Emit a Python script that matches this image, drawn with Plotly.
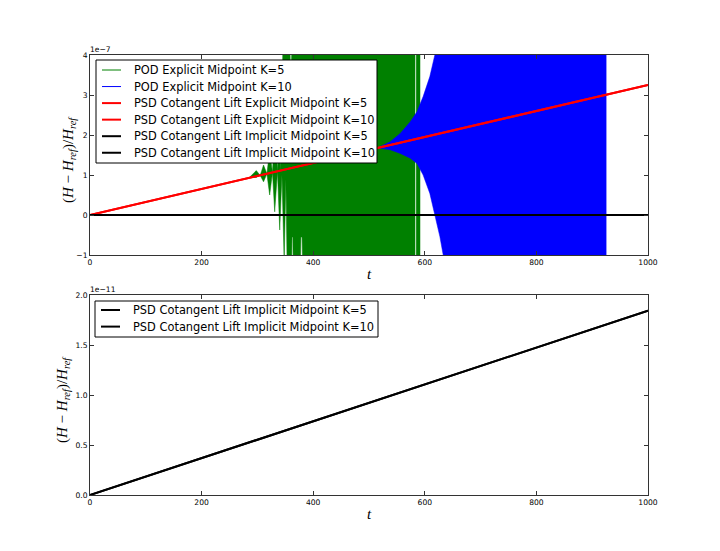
import plotly.graph_objects as go

# ---------------- data ----------------
# top panel values are in units of 1e-7, bottom panel in units of 1e-11
TOP_SCALE = 1e-7
BOT_SCALE = 1e-11

# POD Explicit Midpoint K=5 : envelope of the (dense) oscillation
green_upper_t = [285, 298, 305, 311, 317, 322, 327, 331, 336, 339, 342, 346, 350, 357, 359, 361, 363, 582.5]
green_upper_v = [0.93, 1.11, 0.99, 1.25, 1.03, 1.6, 1.06, 2.2, 1.09, 3.0, 1.11, 4.5, 5.0, 5.0, 3.8, 3.8, 5.0, 5.0]
green_lower_t = [285, 298, 305, 311, 317, 322, 327, 331, 336, 340, 344, 348, 351, 354, 361, 362, 363.5, 365, 376, 378, 380, 382, 582.5]
green_lower_v = [0.93, 0.94, 0.99, 0.83, 1.03, 0.5, 1.06, 0.08, 1.09, -0.375, 1.0, -1.2, 0.9, -2.0, -2.0, -0.55, -0.55, -2.0, -2.0, -0.55, -0.55, -2.0, -2.0]
green_tail_t = [584.5, 591.4]
green_tail_upper = [5.0, 5.0]
green_tail_lower = [-2.0, -2.0]

# POD Explicit Midpoint K=10 : envelope of the oscillation
blue_upper_t = [505, 520, 538, 556, 574, 586, 597, 609, 618, 625, 925]
blue_upper_v = [1.64, 1.71, 1.83, 2.04, 2.33, 2.58, 2.96, 3.46, 4.0, 5.0, 5.0]
blue_lower_t = [505, 520, 538, 556, 574, 586, 597, 609, 618, 627, 633, 640, 925]
blue_lower_v = [1.64, 1.67, 1.63, 1.54, 1.42, 1.29, 1.0, 0.54, 0.04, -0.54, -1.0, -2.0, -2.0]

# PSD Cotangent Lift Explicit Midpoint (K=5 and K=10 coincide), units 1e-7
red_t = [0, 1000]
red_k5 = [0.0, 3.25]
red_k10 = [0.0, 3.25]

# PSD Cotangent Lift Implicit Midpoint (K=5 and K=10 coincide), units 1e-11
black_t = [0, 1000]
black_k5 = [0.0, 1.843]
black_k10 = [0.0, 1.843]

x_ticks = [0, 200, 400, 600, 800, 1000]
top_y_ticks = [-1, 0, 1, 2, 3, 4]
bot_y_ticks = [0.0, 0.5, 1.0, 1.5, 2.0]

names = [
    "POD Explicit Midpoint K=5",
    "POD Explicit Midpoint K=10",
    "PSD Cotangent Lift Explicit Midpoint K=5",
    "PSD Cotangent Lift Explicit Midpoint K=10",
    "PSD Cotangent Lift Implicit Midpoint K=5",
    "PSD Cotangent Lift Implicit Midpoint K=10",
]

GREEN = "#008000"
BLUE = "#0000ff"
RED = "#ff0000"
BLACK = "#000000"
top_legend_styles = [(GREEN, 1), (BLUE, 1), (RED, 2), (RED, 2), (BLACK, 2), (BLACK, 2)]
bot_legend_styles = [(BLACK, 2), (BLACK, 2)]


def polygon(ut, uv, lt, lv):
    xs = list(ut) + list(reversed(lt))
    ys = list(uv) + list(reversed(lv))
    return xs, ys


gx1, gy1 = polygon(green_upper_t, green_upper_v, green_lower_t, green_lower_v)
gx2, gy2 = polygon(green_tail_t, green_tail_upper, green_tail_t, green_tail_lower)
gx = gx1 + [None] + gx2
gy = gy1 + [None] + gy2
bx, by = polygon(blue_upper_t, blue_upper_v, blue_lower_t, blue_lower_v)

fig = go.Figure()

# ---------------- top panel ----------------
fig.add_trace(go.Scatter(x=gx, y=gy, mode="lines", fill="toself", fillcolor=GREEN,
                         line=dict(color=GREEN, width=0.5), name=names[0],
                         hoverinfo="skip", xaxis="x", yaxis="y"))
fig.add_trace(go.Scatter(x=bx, y=by, mode="lines", fill="toself", fillcolor=BLUE,
                         line=dict(color=BLUE, width=0.5), name=names[1],
                         hoverinfo="skip", xaxis="x", yaxis="y"))
fig.add_trace(go.Scatter(x=red_t, y=red_k5, mode="lines", name=names[2],
                         line=dict(color=RED, width=2), xaxis="x", yaxis="y"))
fig.add_trace(go.Scatter(x=red_t, y=red_k10, mode="lines", name=names[3],
                         line=dict(color=RED, width=2), xaxis="x", yaxis="y"))
fig.add_trace(go.Scatter(x=black_t, y=[v * BOT_SCALE / TOP_SCALE for v in black_k5],
                         mode="lines", name=names[4],
                         line=dict(color=BLACK, width=2), xaxis="x", yaxis="y"))
fig.add_trace(go.Scatter(x=black_t, y=[v * BOT_SCALE / TOP_SCALE for v in black_k10],
                         mode="lines", name=names[5],
                         line=dict(color=BLACK, width=2), xaxis="x", yaxis="y"))

# ---------------- bottom panel ----------------
fig.add_trace(go.Scatter(x=black_t, y=black_k5, mode="lines", name=names[4],
                         line=dict(color=BLACK, width=2), xaxis="x2", yaxis="y2"))
fig.add_trace(go.Scatter(x=black_t, y=black_k10, mode="lines", name=names[5],
                         line=dict(color=BLACK, width=2), xaxis="x2", yaxis="y2"))

TICKFONT = dict(family="DejaVu Sans", size=7.6, color="black")
axis_common = dict(showline=True, linecolor="#333333", linewidth=1, mirror="ticks",
                   ticks="inside", ticklen=4, tickcolor="#333333", tickwidth=1,
                   showgrid=False, zeroline=False, tickfont=TICKFONT)

# page pixel -> paper coordinates (plot area spans x 90..648, y 55..495 on the page)
def px(x):
    return (x - 90) / 558.0


def py(y):
    return (495 - y) / 440.0


top_dom = [py(255), 1.0]
bot_dom = [0.0, py(295)]

# the page body has an 8px margin; size the figure so the plot lands where the reference has it
fig.update_layout(
    width=704, height=535,
    margin=dict(l=82, r=64, t=47, b=48),
    paper_bgcolor="white", plot_bgcolor="white",
    showlegend=False,
    xaxis=dict(domain=[0, 1], range=[0, 1000], tickvals=x_ticks, anchor="y", **axis_common),
    yaxis=dict(domain=top_dom, range=[-1, 4], tickvals=top_y_ticks, anchor="x", **axis_common),
    xaxis2=dict(domain=[0, 1], range=[0, 1000], tickvals=x_ticks, anchor="y2", **axis_common),
    yaxis2=dict(domain=bot_dom, range=[0, 2.0], tickvals=bot_y_ticks, tickformat=".1f",
                anchor="x2", **axis_common),
)

ylabel = "(<i>H</i> − <i>H</i><sub><i>ref</i></sub>)/<i>H</i><sub><i>ref</i></sub>"
serif = dict(family="Liberation Serif", size=15, color="black")
legfont = dict(family="DejaVu Sans", size=11.4, color="black")
ann = []
shapes = []
for xr, yr, off, lab_shift in [("x domain", "y domain", "1e−7", -21),
                               ("x2 domain", "y2 domain", "1e−11", -27)]:
    ann.append(dict(xref=xr, yref=yr, x=0, y=1, xanchor="left", yanchor="bottom",
                    text=off, showarrow=False, font=TICKFONT, xshift=-2, yshift=-1))
    ann.append(dict(xref=xr, yref=yr, x=0, y=0.5, xanchor="center", yanchor="middle",
                    text=ylabel, textangle=-90, showarrow=False, font=serif,
                    xshift=lab_shift, yshift=-5))
    ann.append(dict(xref=xr, yref=yr, x=0.5, y=0, xanchor="center", yanchor="middle",
                    text="<i>t</i>", showarrow=False, font=serif, yshift=-19))


def add_legend(box, labels, styles, row0, dy, line_x0, line_x1, text_x):
    x0, y0, x1, y1 = box
    shapes.append(dict(type="rect", xref="paper", yref="paper",
                       x0=px(x0), x1=px(x1), y0=py(y1), y1=py(y0),
                       line=dict(color="black", width=1), fillcolor="white", layer="above"))
    for i, (lab, (col, w)) in enumerate(zip(labels, styles)):
        yy = row0 + i * dy
        shapes.append(dict(type="line", xref="paper", yref="paper",
                           x0=px(line_x0), x1=px(line_x1), y0=py(yy), y1=py(yy),
                           line=dict(color=col, width=w), layer="above"))
        ann.append(dict(xref="paper", yref="paper", x=px(text_x), y=py(yy),
                        xanchor="left", yanchor="middle", text=lab, showarrow=False,
                        font=legfont))


add_legend((96, 60, 377, 163), names, top_legend_styles, 70.0, 16.55, 102, 121, 132)
add_legend((95, 301, 378, 337), names[4:], bot_legend_styles, 310.0, 16.6, 101, 120, 131)

fig.update_layout(annotations=ann, shapes=shapes)

fig.write_html("out.html")
